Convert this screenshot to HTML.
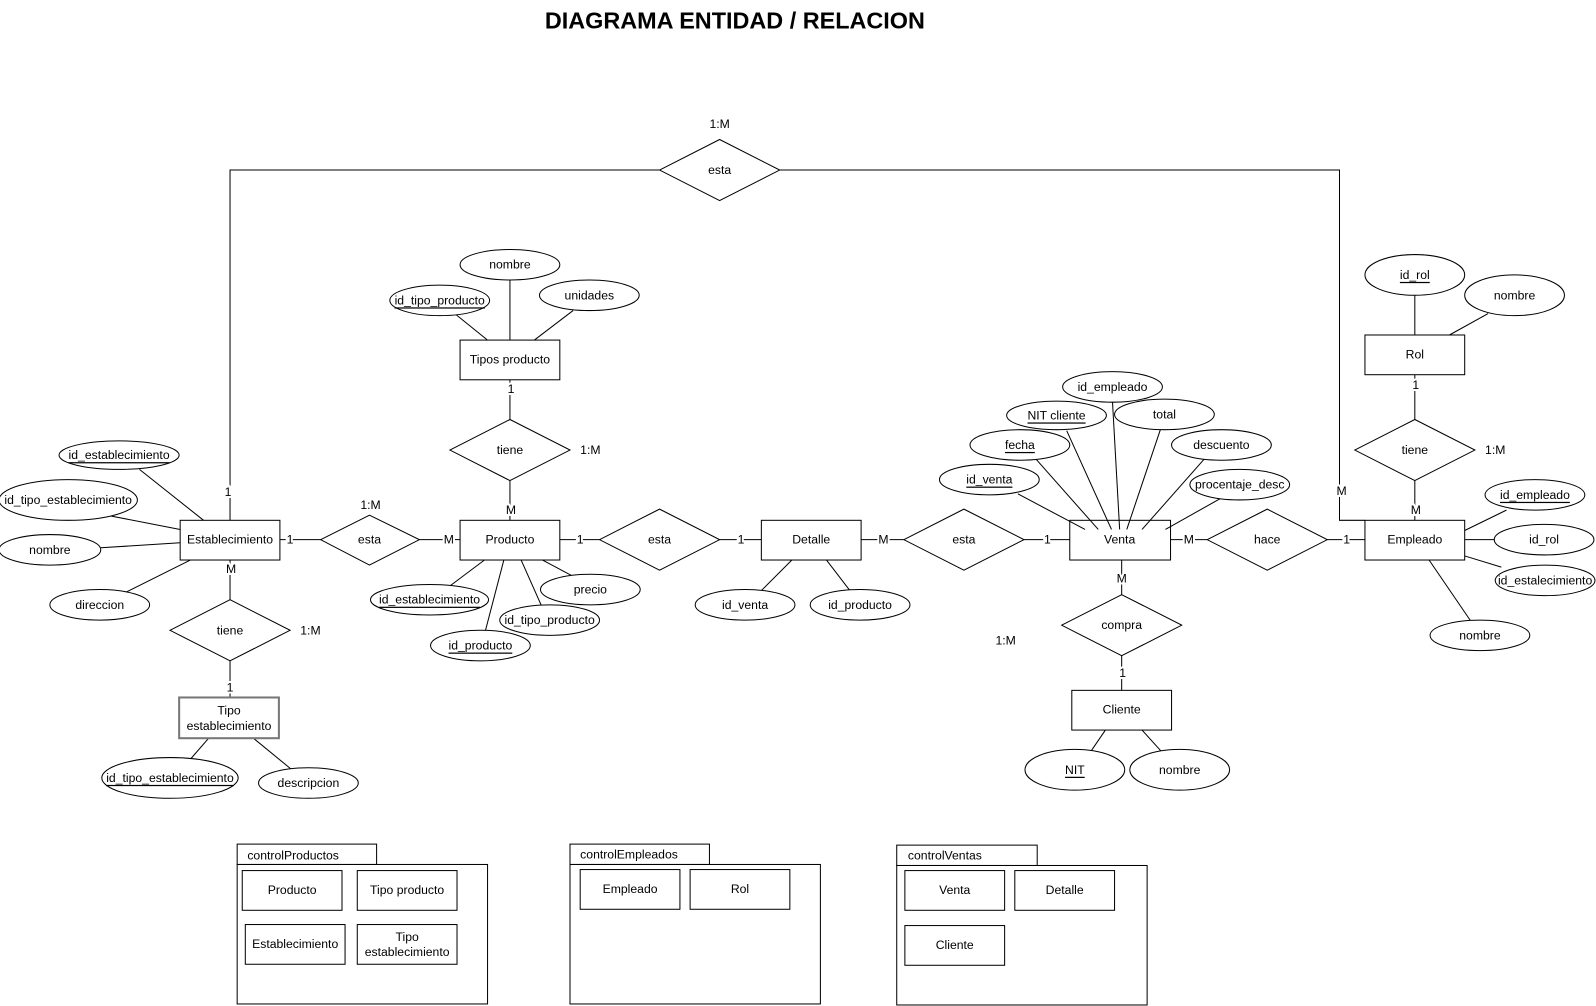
<!DOCTYPE html>
<html><head><meta charset="utf-8"><style>
html,body{margin:0;padding:0;background:#fff;overflow:hidden;width:1596px;height:1006px}
svg{display:block}
svg text{font-family:"Liberation Sans",sans-serif;font-size:12px;fill:#000}
.c{text-anchor:middle;dominant-baseline:central}
.l{stroke:#fff;stroke-width:4px;paint-order:stroke}
</style></head><body>
<svg width="1596" height="1006" viewBox="0 0 1568 988" preserveAspectRatio="none" xmlns="http://www.w3.org/2000/svg">
<g fill="none" stroke="#000" stroke-width="1">
<polyline points="226,511 226,167 648,167"/>
<polyline points="766,167 1316,167 1316,511 1341,511"/>
<line x1="275" y1="530" x2="315" y2="530"/><line x1="412" y1="530" x2="452" y2="530"/>
<line x1="550" y1="530" x2="589" y2="530"/><line x1="707" y1="530" x2="748" y2="530"/>
<line x1="846" y1="530" x2="888" y2="530"/><line x1="1006" y1="530" x2="1051" y2="530"/>
<line x1="1150" y1="530" x2="1186" y2="530"/><line x1="1304" y1="530" x2="1341" y2="530"/>
<line x1="501" y1="373" x2="501" y2="412"/><line x1="501" y1="472" x2="501" y2="511"/>
<line x1="226" y1="550" x2="226" y2="589"/><line x1="226" y1="649" x2="226" y2="685"/>
<line x1="1390" y1="368" x2="1390" y2="412"/><line x1="1390" y1="472" x2="1390" y2="511"/>
<line x1="1102" y1="550" x2="1102" y2="584"/><line x1="1102" y1="644" x2="1102" y2="678"/>
<line x1="137" y1="461" x2="200" y2="511"/><line x1="100" y1="505" x2="177" y2="520"/>
<line x1="99" y1="538" x2="177" y2="533"/><line x1="123" y1="582" x2="187" y2="550"/>
<line x1="205" y1="725" x2="185" y2="748"/><line x1="249" y1="725" x2="288" y2="757"/>
<line x1="501" y1="275" x2="501" y2="334"/><line x1="448" y1="309" x2="479" y2="334"/>
<line x1="563" y1="305" x2="525" y2="334"/>
<line x1="476" y1="550" x2="440" y2="577"/><line x1="533" y1="550" x2="563" y2="566"/>
<line x1="512" y1="550" x2="532" y2="595"/><line x1="495" y1="550" x2="477" y2="619"/>
<line x1="778" y1="550" x2="748" y2="580"/><line x1="812" y1="550" x2="835" y2="580"/>
<line x1="1000" y1="485" x2="1066" y2="520"/><line x1="1017" y1="450" x2="1079" y2="520"/>
<line x1="1048" y1="423" x2="1092" y2="520"/><line x1="1093" y1="395" x2="1100" y2="520"/>
<line x1="1140" y1="422" x2="1107" y2="520"/><line x1="1183" y1="451" x2="1122" y2="520"/>
<line x1="1200" y1="489" x2="1145" y2="520"/>
<line x1="1086" y1="717" x2="1071" y2="739"/><line x1="1122" y1="717" x2="1141" y2="738"/>
<line x1="1390" y1="290" x2="1390" y2="329"/><line x1="1462" y1="308" x2="1424" y2="329"/>
<line x1="1439" y1="521" x2="1480" y2="501"/><line x1="1439" y1="530" x2="1468" y2="530"/>
<line x1="1439" y1="546" x2="1475" y2="557"/><line x1="1404" y1="550" x2="1445" y2="610"/>
<rect x="177" y="511" width="98" height="39"/><rect x="452" y="511" width="98" height="39"/>
<rect x="748" y="511" width="98" height="39"/><rect x="1051" y="511" width="99" height="39"/>
<rect x="1341" y="511" width="98" height="39"/><rect x="452" y="334" width="98" height="39"/>
<rect x="1341" y="329" width="98" height="39"/><rect x="1053" y="678" width="98" height="39"/>
<rect x="176" y="685" width="98" height="40" stroke="#777" stroke-width="2"/>
</g>
<g fill="#fff" stroke="#000">
<polygon points="648,167 707,137 766,167 707,197"/>
<polygon points="315,530 363,506 412,530 363,555"/>
<polygon points="589,530 648,500 707,530 648,560"/>
<polygon points="888,530 947,500 1006,530 947,560"/>
<polygon points="1186,530 1245,500 1304,530 1245,560"/>
<polygon points="442,442 501,412 560,442 501,472"/>
<polygon points="167,619 226,589 285,619 226,649"/>
<polygon points="1331,442 1390,412 1449,442 1390,472"/>
<polygon points="1043,614 1102,584 1161,614 1102,644"/>
<ellipse cx="117" cy="447" rx="59" ry="14"/><ellipse cx="67" cy="491" rx="68" ry="20"/>
<ellipse cx="49" cy="540" rx="50" ry="15"/><ellipse cx="98" cy="594" rx="49" ry="15"/>
<ellipse cx="167" cy="764" rx="67" ry="20"/><ellipse cx="303" cy="769" rx="49" ry="15"/>
<ellipse cx="501" cy="260" rx="49" ry="15"/><ellipse cx="432" cy="295" rx="49" ry="15"/>
<ellipse cx="579" cy="290" rx="49" ry="15"/>
<ellipse cx="422" cy="589" rx="58" ry="15"/><ellipse cx="580" cy="579" rx="49" ry="15"/>
<ellipse cx="540" cy="609" rx="49" ry="15"/><ellipse cx="472" cy="634" rx="49" ry="15"/>
<ellipse cx="732" cy="594" rx="49" ry="15"/><ellipse cx="845" cy="594" rx="49" ry="15"/>
<ellipse cx="1093" cy="380" rx="49" ry="15"/><ellipse cx="1038" cy="408" rx="49" ry="14"/>
<ellipse cx="1144" cy="407" rx="49" ry="15"/><ellipse cx="1002" cy="437" rx="49" ry="15"/>
<ellipse cx="1200" cy="437" rx="49" ry="15"/><ellipse cx="972" cy="471" rx="49" ry="15"/>
<ellipse cx="1218" cy="476" rx="49" ry="15"/>
<ellipse cx="1056" cy="756" rx="49" ry="20"/><ellipse cx="1159" cy="756" rx="49" ry="20"/>
<ellipse cx="1390" cy="270" rx="49" ry="20"/><ellipse cx="1488" cy="290" rx="49" ry="20"/>
<ellipse cx="1508" cy="486" rx="49" ry="15"/><ellipse cx="1517" cy="530" rx="49" ry="15"/>
<ellipse cx="1518" cy="570" rx="49" ry="15"/><ellipse cx="1454" cy="624" rx="49" ry="15"/>
</g>
<g fill="none" stroke="#000">
<rect x="233" y="829" width="137" height="20"/><rect x="233" y="849" width="246" height="137"/>
<rect x="238" y="855" width="98" height="39"/><rect x="351" y="855" width="98" height="39"/>
<rect x="241" y="908" width="98" height="39"/><rect x="351" y="908" width="98" height="39"/>
<rect x="560" y="829" width="137" height="20"/><rect x="560" y="849" width="246" height="137"/>
<rect x="570" y="854" width="98" height="39"/><rect x="678" y="854" width="98" height="39"/>
<rect x="881" y="830" width="138" height="20"/><rect x="881" y="850" width="246" height="137"/>
<rect x="889" y="855" width="98" height="39"/><rect x="997" y="855" width="98" height="39"/>
<rect x="889" y="909" width="98" height="39"/>
</g>
<text x="722" y="20" class="c" style="font-size:23px;font-weight:bold">DIAGRAMA ENTIDAD / RELACION</text>
<g>
<text x="707" y="122" class="c">1:M</text><text x="707" y="167" class="c">esta</text>
<text x="224" y="483" class="c l">1</text><text x="1318" y="482" class="c l">M</text>
<text x="226" y="530" class="c">Establecimiento</text><text x="501" y="530" class="c">Producto</text>
<text x="797" y="530" class="c">Detalle</text><text x="1100" y="530" class="c">Venta</text>
<text x="1390" y="530" class="c">Empleado</text><text x="501" y="353" class="c">Tipos producto</text>
<text x="1390" y="348" class="c">Rol</text><text x="1102" y="697" class="c">Cliente</text>
<text x="225" y="698" class="c">Tipo</text><text x="225" y="713" class="c">establecimiento</text>
<text x="363" y="530" class="c">esta</text><text x="648" y="530" class="c">esta</text>
<text x="947" y="530" class="c">esta</text><text x="1245" y="530" class="c">hace</text>
<text x="501" y="442" class="c">tiene</text><text x="226" y="619" class="c">tiene</text>
<text x="1390" y="442" class="c">tiene</text><text x="1102" y="614" class="c">compra</text>
<text x="364" y="496" class="c">1:M</text><text x="580" y="442" class="c">1:M</text>
<text x="305" y="619" class="c">1:M</text><text x="1469" y="442" class="c">1:M</text>
<text x="988" y="629" class="c">1:M</text>
<text x="285" y="530" class="c l">1</text><text x="441" y="530" class="c l">M</text>
<text x="570" y="530" class="c l">1</text><text x="728" y="530" class="c l">1</text>
<text x="868" y="530" class="c l">M</text><text x="1029" y="530" class="c l">1</text>
<text x="1168" y="530" class="c l">M</text><text x="1323" y="530" class="c l">1</text>
<text x="502" y="382" class="c l">1</text><text x="502" y="501" class="c l">M</text>
<text x="227" y="559" class="c l">M</text><text x="226" y="675" class="c l">1</text>
<text x="1391" y="378" class="c l">1</text><text x="1391" y="501" class="c l">M</text>
<text x="1102" y="568" class="c l">M</text><text x="1103" y="661" class="c l">1</text>
<text x="117" y="447" class="c" text-decoration="underline">id_establecimiento</text>
<text x="67" y="491" class="c">id_tipo_establecimiento</text>
<text x="49" y="540" class="c">nombre</text><text x="98" y="594" class="c">direccion</text>
<text x="167" y="764" class="c" text-decoration="underline">id_tipo_establecimiento</text>
<text x="303" y="769" class="c">descripcion</text>
<text x="501" y="260" class="c">nombre</text>
<text x="432" y="295" class="c" text-decoration="underline">id_tipo_producto</text>
<text x="579" y="290" class="c">unidades</text>
<text x="422" y="589" class="c" text-decoration="underline">id_establecimiento</text>
<text x="580" y="579" class="c">precio</text><text x="540" y="609" class="c">id_tipo_producto</text>
<text x="472" y="634" class="c" text-decoration="underline">id_producto</text>
<text x="732" y="594" class="c">id_venta</text><text x="845" y="594" class="c">id_producto</text>
<text x="1093" y="380" class="c">id_empleado</text>
<text x="1038" y="408" class="c" text-decoration="underline">NIT cliente</text>
<text x="1144" y="407" class="c">total</text>
<text x="1002" y="437" class="c" text-decoration="underline">fecha</text>
<text x="1200" y="437" class="c">descuento</text>
<text x="972" y="471" class="c" text-decoration="underline">id_venta</text>
<text x="1218" y="476" class="c">procentaje_desc</text>
<text x="1056" y="756" class="c" text-decoration="underline">NIT</text>
<text x="1159" y="756" class="c">nombre</text>
<text x="1390" y="270" class="c" text-decoration="underline">id_rol</text>
<text x="1488" y="290" class="c">nombre</text>
<text x="1508" y="486" class="c" text-decoration="underline">id_empleado</text>
<text x="1517" y="530" class="c">id_rol</text>
<text x="1518" y="570" class="c">id_estalecimiento</text>
<text x="1454" y="624" class="c">nombre</text>
<text x="243" y="840" dominant-baseline="central">controlProductos</text>
<text x="570" y="839" dominant-baseline="central">controlEmpleados</text>
<text x="892" y="840" dominant-baseline="central">controlVentas</text>
<text x="287" y="874" class="c">Producto</text><text x="400" y="874" class="c">Tipo producto</text>
<text x="290" y="927" class="c">Establecimiento</text>
<text x="400" y="920" class="c">Tipo</text><text x="400" y="935" class="c">establecimiento</text>
<text x="619" y="873" class="c">Empleado</text><text x="727" y="873" class="c">Rol</text>
<text x="938" y="874" class="c">Venta</text><text x="1046" y="874" class="c">Detalle</text>
<text x="938" y="928" class="c">Cliente</text>
</g>
</svg>
</body></html>
